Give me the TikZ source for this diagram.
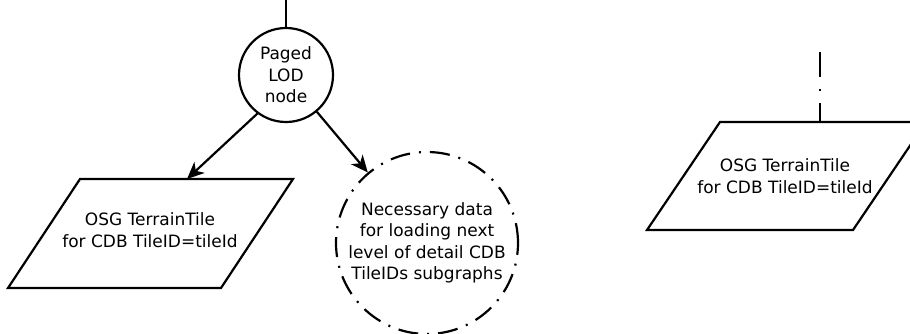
\documentclass[tikz,border=0pt]{standalone}
\usepackage{fontspec}
\setmainfont{DejaVu Sans}
\usetikzlibrary{arrows.meta}
\newcommand{\lblfont}{\fontsize{17pt}{21.5pt}\selectfont}
\begin{document}
\begin{tikzpicture}[x=1pt,y=-1pt,
  line width=2.2pt,
  lbl/.style={font=\lblfont, align=center, inner sep=0pt},
  dashdot/.style={dash pattern=on 20pt off 9pt on 2pt off 9pt},
  arr/.style={-{Stealth[length=17pt,width=15pt,inset=5pt]}}]
\useasboundingbox (0,0) rectangle (910,333);
\clip (0,0) rectangle (910,333);

% paged LOD node and its parent link
\node[circle, draw, minimum size=94pt, lbl] (lod) at (286,75) {Paged\\LOD\\node};
\coordinate (lodin) at (286,0);
\draw (lodin) -- (lod.north);

% left terrain tile (parallelogram)
\coordinate (tA) at (80,179);
\coordinate (tB) at (293,179);
\coordinate (tC) at (221,288);
\coordinate (tD) at (8,288);
\draw (tA) -- (tB) -- (tC) -- (tD) -- cycle;
\node[lbl] (tile) at (150,230) {OSG TerrainTile\\for CDB TileID=tileId};
\coordinate (tileTop) at (187,179);

% data for the next level of detail
\node[circle, draw, dashdot, minimum size=182pt, inner sep=0pt] (next) at (427,243) {};
\node[lbl] (nexttxt) at (next.center)
  {Necessary data\\for loading next\\level of detail CDB\\TileIDs subgraphs};

\draw[arr] (lod.south west) ++(6pt,-4pt) -- (tileTop);
\draw[arr] (lod) -- (next);

% right terrain tile
\coordinate (rA) at (720,122);
\coordinate (rB) at (926,122);
\coordinate (rC) at (853,230);
\coordinate (rD) at (647,230);
\draw (rA) -- (rB) -- (rC) -- (rD) -- cycle;
\node[lbl] (rtile) at (785,176) {OSG TerrainTile\\for CDB TileID=tileId};
\coordinate (rin) at (820,52);
\coordinate (rtop) at (820,122);
\draw[dash pattern=on 25pt off 12pt on 2pt off 12pt] (rin) -- (rtop);
\end{tikzpicture}
\end{document}
